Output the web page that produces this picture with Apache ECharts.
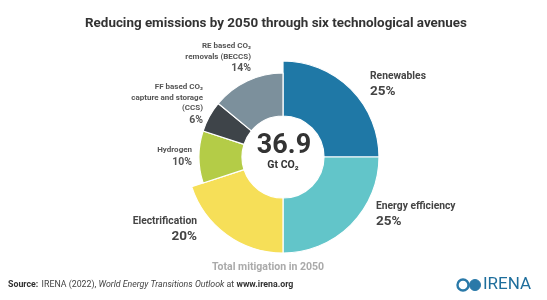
<!DOCTYPE html>
<html>
<head>
<meta charset="utf-8">
<script src="https://cdn.jsdelivr.net/npm/echarts@6/dist/echarts.min.js"></script>
<style>
html,body{margin:0;padding:0;background:#fff;}
#chart{width:547px;height:300px;}
</style>
</head>
<body>
<div id="chart"></div>
<script>
// ---- data ----
const categories = ['Renewables', 'Energy efficiency', 'Electrification', 'Hydrogen', 'FF based CO₂\ncapture and storage\n(CCS)', 'RE based CO₂\nremovals (BECCS)'];
const shares = [25, 25, 20, 10, 6, 14];
const colors = ['#1f78a6', '#62c5c9', '#f6df58', '#b4cc47', '#3e4449', '#7c909c'];
const bigGroup = [true, true, true, false, false, false];
const totalValue = '36.9';
const totalUnit = 'Gt CO₂';

// ---- label layout (positions only) ----
const labelPos = [
  {x: 370, y: 70, align: 'left'},
  {x: 376, y: 200, align: 'left'},
  {x: 197, y: 215, align: 'right'},
  {x: 192, y: 145, align: 'right'},
  {x: 203, y: 82, align: 'right'},
  {x: 251, y: 41, align: 'right'}
];

const chart = echarts.init(document.getElementById('chart'), null, {renderer: 'canvas'});
const FONT = 'Roboto, "DejaVu Sans", sans-serif';

function makeData(visibleBig) {
  return categories.map((c, i) => {
    const vis = bigGroup[i] === visibleBig;
    return {
      name: c,
      value: shares[i],
      itemStyle: vis ? {color: colors[i], borderColor: '#fff', borderWidth: 1.2} : {color: 'rgba(0,0,0,0)', borderWidth: 0},
      label: {show: visibleBig}
    };
  });
}

const option = {
  animation: false,
  title: {
    text: 'Reducing emissions by 2050 through six technological avenues',
    left: 271, top: 12, textAlign: 'center',
    textStyle: {fontFamily: FONT, fontSize: 13.4, fontWeight: 'bold', color: '#333'}
  },
  series: [
    {
      type: 'pie',
      center: [283, 157],
      radius: [41, 96],
      startAngle: 90,
      clockwise: true,
      silent: true,
      data: makeData(true),
      labelLine: {show: false},
      label: {
        position: 'outside',
        fontFamily: FONT,
        formatter: p => {
          const i = p.dataIndex;
          const big = bigGroup[i];
          const nameLines = categories[i].split('\n').map(l => (big ? '{nb|' : '{n|') + l + '}').join('\n');
          return nameLines + '\n' + (big ? '{pb|' : '{ps|') + shares[i] + '%}';
        },
        rich: {
          n: {fontFamily: FONT, fontSize: 8, fontWeight: 'bold', color: '#555', lineHeight: 10.5},
          nb: {fontFamily: FONT, fontSize: 10.3, fontWeight: 'bold', color: '#444', lineHeight: 13},
          ps: {fontFamily: FONT, fontSize: 10.5, fontWeight: 'bold', color: '#555', lineHeight: 13},
          pb: {fontFamily: FONT, fontSize: 13.5, fontWeight: 'bold', color: '#444', lineHeight: 17}
        }
      },
      labelLayout: p => {
        const lp = labelPos[p.dataIndex];
        return {x: lp.x, y: lp.y, align: lp.align, verticalAlign: 'top', moveOverlap: null, hideOverlap: false};
      }
    },
    {
      type: 'pie',
      center: [283, 157],
      radius: [41, 84],
      startAngle: 90,
      clockwise: true,
      silent: true,
      data: makeData(false),
      label: {show: false},
      labelLine: {show: false}
    }
  ],
  graphic: [
    {type: 'text', x: 284, y: 146, style: {text: totalValue, align: 'center', verticalAlign: 'middle', font: 'bold 27px ' + FONT, fill: '#333'}},
    {type: 'text', x: 283, y: 165, style: {text: totalUnit, align: 'center', verticalAlign: 'middle', font: 'bold 10.5px ' + FONT, fill: '#333'}},
    {type: 'text', x: 268, y: 267, style: {text: 'Total mitigation in 2050', align: 'center', verticalAlign: 'middle', font: 'bold 10.5px ' + FONT, fill: '#aaa'}},
    {type: 'text', x: 8, y: 285, style: {
      text: '{b|Source:} {r|IRENA (2022), }{i|World Energy Transitions Outlook}{r| at }{b|www.irena.org}',
      verticalAlign: 'middle',
      rich: {
        b: {fontFamily: FONT, fontSize: 8.8, fontWeight: 'bold', fill: '#333'},
        r: {fontFamily: FONT, fontSize: 8.8, fill: '#444'},
        i: {fontFamily: FONT, fontSize: 8.8, fontStyle: 'italic', fill: '#444'}
      }
    }},
    {type: 'circle', shape: {cx: 463, cy: 285, r: 5.5}, style: {fill: 'none', stroke: '#2a79a8', lineWidth: 2.4}},
    {type: 'circle', shape: {cx: 475, cy: 285, r: 5.5}, style: {fill: '#2a79a8', stroke: '#2a79a8', lineWidth: 1}},
    {type: 'text', x: 483, y: 285, style: {text: 'IRENA', verticalAlign: 'middle', font: '17px ' + FONT, fill: '#1e6e9c'}}
  ]
};
chart.setOption(option);
</script>
</body>
</html>
